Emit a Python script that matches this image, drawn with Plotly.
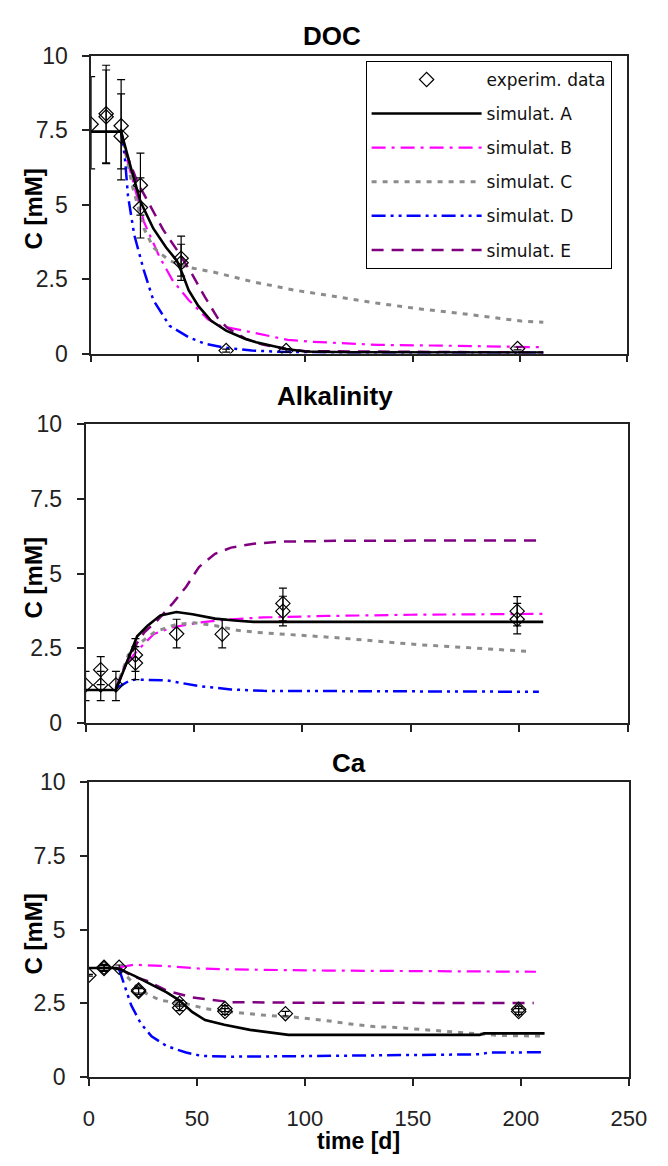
import plotly.graph_objects as go

# ---------------- data ----------------
PANELS = ["DOC", "Alkalinity", "Ca"]
TICK_X = [0, 50, 100, 150, 200, 250]
TICK_Y = [0, 2.5, 5, 7.5, 10]
TICK_Y_LABELS = ["0", "2.5", "5", "7.5", "10"]
LEGEND_EXP = "experim. data"
SERIES = ["simulat. A", "simulat. B", "simulat. C", "simulat. D", "simulat. E"]

# experimental data (time [d], C [mM], error up, error down)
DOC_EXP_T = [0, 7, 7, 14, 14, 23, 23, 42, 42, 63, 91, 199]
DOC_EXP_C = [7.7, 8.05, 7.95, 7.65, 7.3, 5.65, 4.9, 3.2, 3.05, 0.1, 0.1, 0.17]
DOC_EXP_UP = [1.6, 1.63, 1.57, 1.55, 1.42, 1.08, 1.0, 0.74, 0.62, 0.05, 0.05, 0.05]
DOC_EXP_DN = [1.5, 1.67, 1.55, 1.45, 1.47, 1.0, 1.02, 0.6, 0.59, 0.05, 0.05, 0.05]

ALK_EXP_T = [0, 7, 7, 14, 23, 23, 42, 63, 91, 91, 199, 199]
ALK_EXP_C = [1.27, 1.78, 1.27, 1.27, 2.27, 2.0, 2.98, 2.97, 4.0, 3.74, 3.74, 3.47]
ALK_EXP_UP = [0.45, 0.44, 0.45, 0.45, 0.55, 0.55, 0.49, 0.5, 0.51, 0.5, 0.49, 0.53]
ALK_EXP_DN = [0.53, 0.5, 0.53, 0.53, 0.55, 0.55, 0.47, 0.46, 0.58, 0.49, 0.49, 0.49]

CA_EXP_T = [0, 7, 7, 14, 23, 23, 42, 42, 63, 63, 91, 199, 199]
CA_EXP_C = [3.45, 3.72, 3.68, 3.72, 2.95, 2.9, 2.5, 2.35, 2.32, 2.22, 2.15, 2.3, 2.22]
CA_EXP_ERR = [0.03, 0.1, 0.1, 0.08, 0.1, 0.1, 0.1, 0.1, 0.1, 0.1, 0.08, 0.1, 0.1]

# simulations - DOC
DOC_A_T = [0, 14, 18.7, 23, 29, 35, 40, 42.5, 45.5, 50, 56, 63, 72, 77, 91, 100, 120, 211]
DOC_A_C = [7.45, 7.45, 6.2, 5.1, 4.2, 3.56, 3.12, 2.7, 2.13, 1.6, 1.1, 0.77, 0.49, 0.38, 0.15, 0.07, 0.04, 0.03]
DOC_B_T = [14, 16.4, 20.9, 24.6, 32, 38, 45.5, 54.5, 60.4, 68, 75.4, 91.8, 102, 114, 134, 169, 211]
DOC_B_C = [7.45, 6.62, 5.42, 4.43, 3.23, 2.46, 1.8, 1.15, 0.93, 0.82, 0.71, 0.46, 0.4, 0.36, 0.29, 0.26, 0.21]
DOC_C_T = [14, 19.4, 24.6, 29, 36.6, 45, 57.5, 75.4, 94.8, 114, 133.6, 153, 172, 200.7, 211]
DOC_C_C = [7.45, 5.58, 4.21, 3.56, 3.12, 2.9, 2.73, 2.41, 2.13, 1.91, 1.69, 1.5, 1.35, 1.09, 1.05]
DOC_D_T = [14, 15.7, 17.2, 20.1, 24.6, 29, 36.6, 45.5, 53, 62, 75, 91, 120, 211]
DOC_D_C = [7.45, 6.62, 5.3, 3.99, 2.79, 1.8, 0.93, 0.55, 0.33, 0.2, 0.1, 0.05, 0.03, 0.03]
DOC_E_T = [14, 15.7, 21.7, 27.6, 33.6, 40.3, 47, 53, 59, 63.4, 72, 80, 91, 100, 211]
DOC_E_C = [7.45, 6.84, 5.74, 4.98, 4.16, 3.45, 2.68, 1.91, 1.2, 0.87, 0.5, 0.3, 0.15, 0.08, 0.03]

# simulations - Alkalinity
ALK_A_T = [0, 14, 23.8, 28.6, 34.5, 41.9, 49.3, 59.7, 70, 77.5, 211]
ALK_A_C = [1.1, 1.1, 2.9, 3.25, 3.6, 3.71, 3.64, 3.49, 3.42, 3.38, 3.38]
ALK_B_T = [14, 18.2, 24.1, 31.5, 40.4, 52.3, 67, 82, 111.7, 150, 211]
ALK_B_C = [1.15, 1.94, 2.43, 2.98, 3.2, 3.36, 3.47, 3.53, 3.58, 3.62, 3.65]
ALK_C_T = [14, 19.7, 25.6, 32, 42, 50, 60, 70, 79, 89, 107, 116, 153, 180, 205]
ALK_C_C = [1.15, 2.27, 2.7, 3.05, 3.3, 3.35, 3.25, 3.1, 3.03, 2.98, 2.9, 2.85, 2.62, 2.5, 2.39]
ALK_D_T = [14, 20, 23, 37.5, 52.3, 67, 82, 150, 209]
ALK_D_C = [1.15, 1.4, 1.45, 1.42, 1.23, 1.12, 1.07, 1.06, 1.04]
ALK_E_T = [14, 20, 24, 27.1, 33, 40.4, 46.4, 52.3, 59.7, 67.1, 77.5, 90.9, 120, 211]
ALK_E_C = [1.15, 2.2, 2.7, 3.03, 3.42, 4.02, 4.56, 5.22, 5.66, 5.87, 6.0, 6.07, 6.1, 6.11]

# simulations - Ca
CA_A_T = [0, 13, 21.1, 28.5, 36, 41.9, 47.8, 53.8, 62.7, 74.6, 86.5, 92.4, 181, 183, 211]
CA_A_C = [3.7, 3.7, 3.43, 3.15, 2.87, 2.6, 2.21, 1.93, 1.77, 1.6, 1.49, 1.43, 1.43, 1.48, 1.48]
CA_B_T = [14, 21, 36, 50.8, 65.7, 110, 207]
CA_B_C = [3.72, 3.81, 3.76, 3.68, 3.65, 3.61, 3.57]
CA_C_T = [14, 18.1, 24, 33, 44.9, 53.8, 65.7, 80.5, 93.9, 110.3, 122, 132, 142, 151.5, 161, 171, 190, 209]
CA_C_C = [3.65, 3.37, 2.93, 2.6, 2.49, 2.32, 2.21, 2.1, 2.04, 1.91, 1.79, 1.71, 1.68, 1.63, 1.58, 1.52, 1.41, 1.39]
CA_D_T = [14, 17.4, 19.6, 24, 29, 36, 45, 52, 65, 100, 150, 181, 185, 210]
CA_D_C = [3.65, 2.93, 2.43, 1.82, 1.38, 1.05, 0.83, 0.72, 0.69, 0.71, 0.75, 0.77, 0.83, 0.84]
CA_E_T = [14, 20, 27, 36, 47.8, 65.7, 100, 206]
CA_E_C = [3.7, 3.42, 3.26, 2.93, 2.7, 2.54, 2.52, 2.51]

EXP = [
    (DOC_EXP_T, DOC_EXP_C, DOC_EXP_UP, DOC_EXP_DN),
    (ALK_EXP_T, ALK_EXP_C, ALK_EXP_UP, ALK_EXP_DN),
    (CA_EXP_T, CA_EXP_C, CA_EXP_ERR, CA_EXP_ERR),
]
SIMS = [
    [(DOC_A_T, DOC_A_C), (DOC_B_T, DOC_B_C), (DOC_C_T, DOC_C_C), (DOC_D_T, DOC_D_C), (DOC_E_T, DOC_E_C)],
    [(ALK_A_T, ALK_A_C), (ALK_B_T, ALK_B_C), (ALK_C_T, ALK_C_C), (ALK_D_T, ALK_D_C), (ALK_E_T, ALK_E_C)],
    [(CA_A_T, CA_A_C), (CA_B_T, CA_B_C), (CA_C_T, CA_C_C), (CA_D_T, CA_D_C), (CA_E_T, CA_E_C)],
]

# ---------------- styles ----------------
W, H = 668, 1166
FONT = "Liberation Sans, Arial, sans-serif"
LINE_STYLES = [
    dict(color="#000000", width=2.6, dash="solid"),
    dict(color="#FF00FF", width=2.2, dash="14px,6px,3px,6px"),
    dict(color="#8C8C8C", width=3, dash="5px,6px"),
    dict(color="#0000FF", width=2.5, dash="14px,5px,3px,5px,3px,5px"),
    dict(color="#800080", width=2.5, dash="12px,8px"),
]
# pixel boxes of the panels: (left, right, top, bottom)
BOXES = [(88.3, 644.0, 43.7, 348.3), (82.5, 645.0, 420.7, 726.0), (86.0, 646.0, 786.7, 1088.3)]
TITLE_Y = [23.5, 392.0, 767.5]
TITLE_X = [338, 341, 356]

fig = go.Figure()

for p in range(3):
    xa = "x" if p == 0 else f"x{p + 1}"
    ya = "y" if p == 0 else f"y{p + 1}"
    # simulations B..E first, then A on top
    for s in [1, 2, 3, 4, 0]:
        t, c = SIMS[p][s]
        fig.add_trace(go.Scatter(
            x=t, y=c, mode="lines", name=SERIES[s], line=LINE_STYLES[s],
            xaxis=xa, yaxis=ya, showlegend=(p == 0), legendgroup=SERIES[s],
            legendrank=s + 2, hoverinfo="skip"))
    t, c, up, dn = EXP[p]
    fig.add_trace(go.Scatter(
        x=t, y=c, mode="markers", name=LEGEND_EXP,
        marker=dict(symbol="diamond-open", size=11, color="#000000", line=dict(width=1.2, color="#000000")),
        error_y=dict(type="data", array=up, arrayminus=dn, symmetric=False,
                     color="#000000", thickness=1.2, width=4),
        xaxis=xa, yaxis=ya, showlegend=(p == 0), legendgroup=LEGEND_EXP, legendrank=1,
        hoverinfo="skip"))

layout = dict(
    width=W, height=H, margin=dict(l=0, r=0, t=0, b=0),
    paper_bgcolor="white", plot_bgcolor="white",
    font=dict(family=FONT, color="#222222", size=23),
    showlegend=True,
    legend=dict(
        x=373 / W, y=1 - 49 / H, xanchor="left", yanchor="top",
        bordercolor="#000000", borderwidth=1, bgcolor="white",
        font=dict(family="DejaVu Sans, sans-serif", size=17, color="#111111"),
        itemwidth=110, tracegroupgap=9, traceorder="grouped",
    ),
)

for p in range(3):
    l, r, t, b = BOXES[p]
    xk = "xaxis" if p == 0 else f"xaxis{p + 1}"
    yk = "yaxis" if p == 0 else f"yaxis{p + 1}"
    xa = "x" if p == 0 else f"x{p + 1}"
    ya = "y" if p == 0 else f"y{p + 1}"
    common = dict(showgrid=False, zeroline=False, showline=True, linecolor="#222222",
                  linewidth=1.6, mirror=True, ticks="outside", ticklen=7,
                  tickcolor="#222222", tickwidth=1.6)
    layout[xk] = dict(domain=[l / W, r / W], anchor=ya, range=[0, 250], tickvals=TICK_X,
                      showticklabels=(p == 2), ticklabelstandoff=14,
                      tickfont=dict(size=22, color="#222222"), **common)
    layout[yk] = dict(domain=[1 - b / H, 1 - t / H], anchor=xa, range=[0, 10],
                      tickvals=TICK_Y, ticktext=TICK_Y_LABELS, ticklabelstandoff=10,
                      tickfont=dict(size=23, color="#222222"), **common)

fig.update_layout(**layout)

ann = []
for p in range(3):
    ann.append(dict(text=PANELS[p], x=TITLE_X[p] / W, y=1 - TITLE_Y[p] / H, xref="paper", yref="paper",
                    xanchor="center", yanchor="middle", showarrow=False,
                    font=dict(size=26, weight="bold", color="#000000", family=FONT)))
    l, r, t, b = BOXES[p]
    ann.append(dict(text="C [mM]", x=29 / W, y=1 - ((t + b) / 2 + 4) / H, xref="paper", yref="paper",
                    xanchor="center", yanchor="middle", textangle=-90, showarrow=False,
                    font=dict(size=24, weight="bold", color="#000000", family=FONT)))
ann.append(dict(text="time [d]", x=366 / W, y=1 - 1154 / H, xref="paper", yref="paper",
                xanchor="center", yanchor="middle", showarrow=False,
                font=dict(size=23, weight="bold", color="#000000", family=FONT)))
fig.update_layout(annotations=ann)

fig.write_html("out.html", post_script="document.body.style.margin='0';document.body.style.overflow='hidden';")
